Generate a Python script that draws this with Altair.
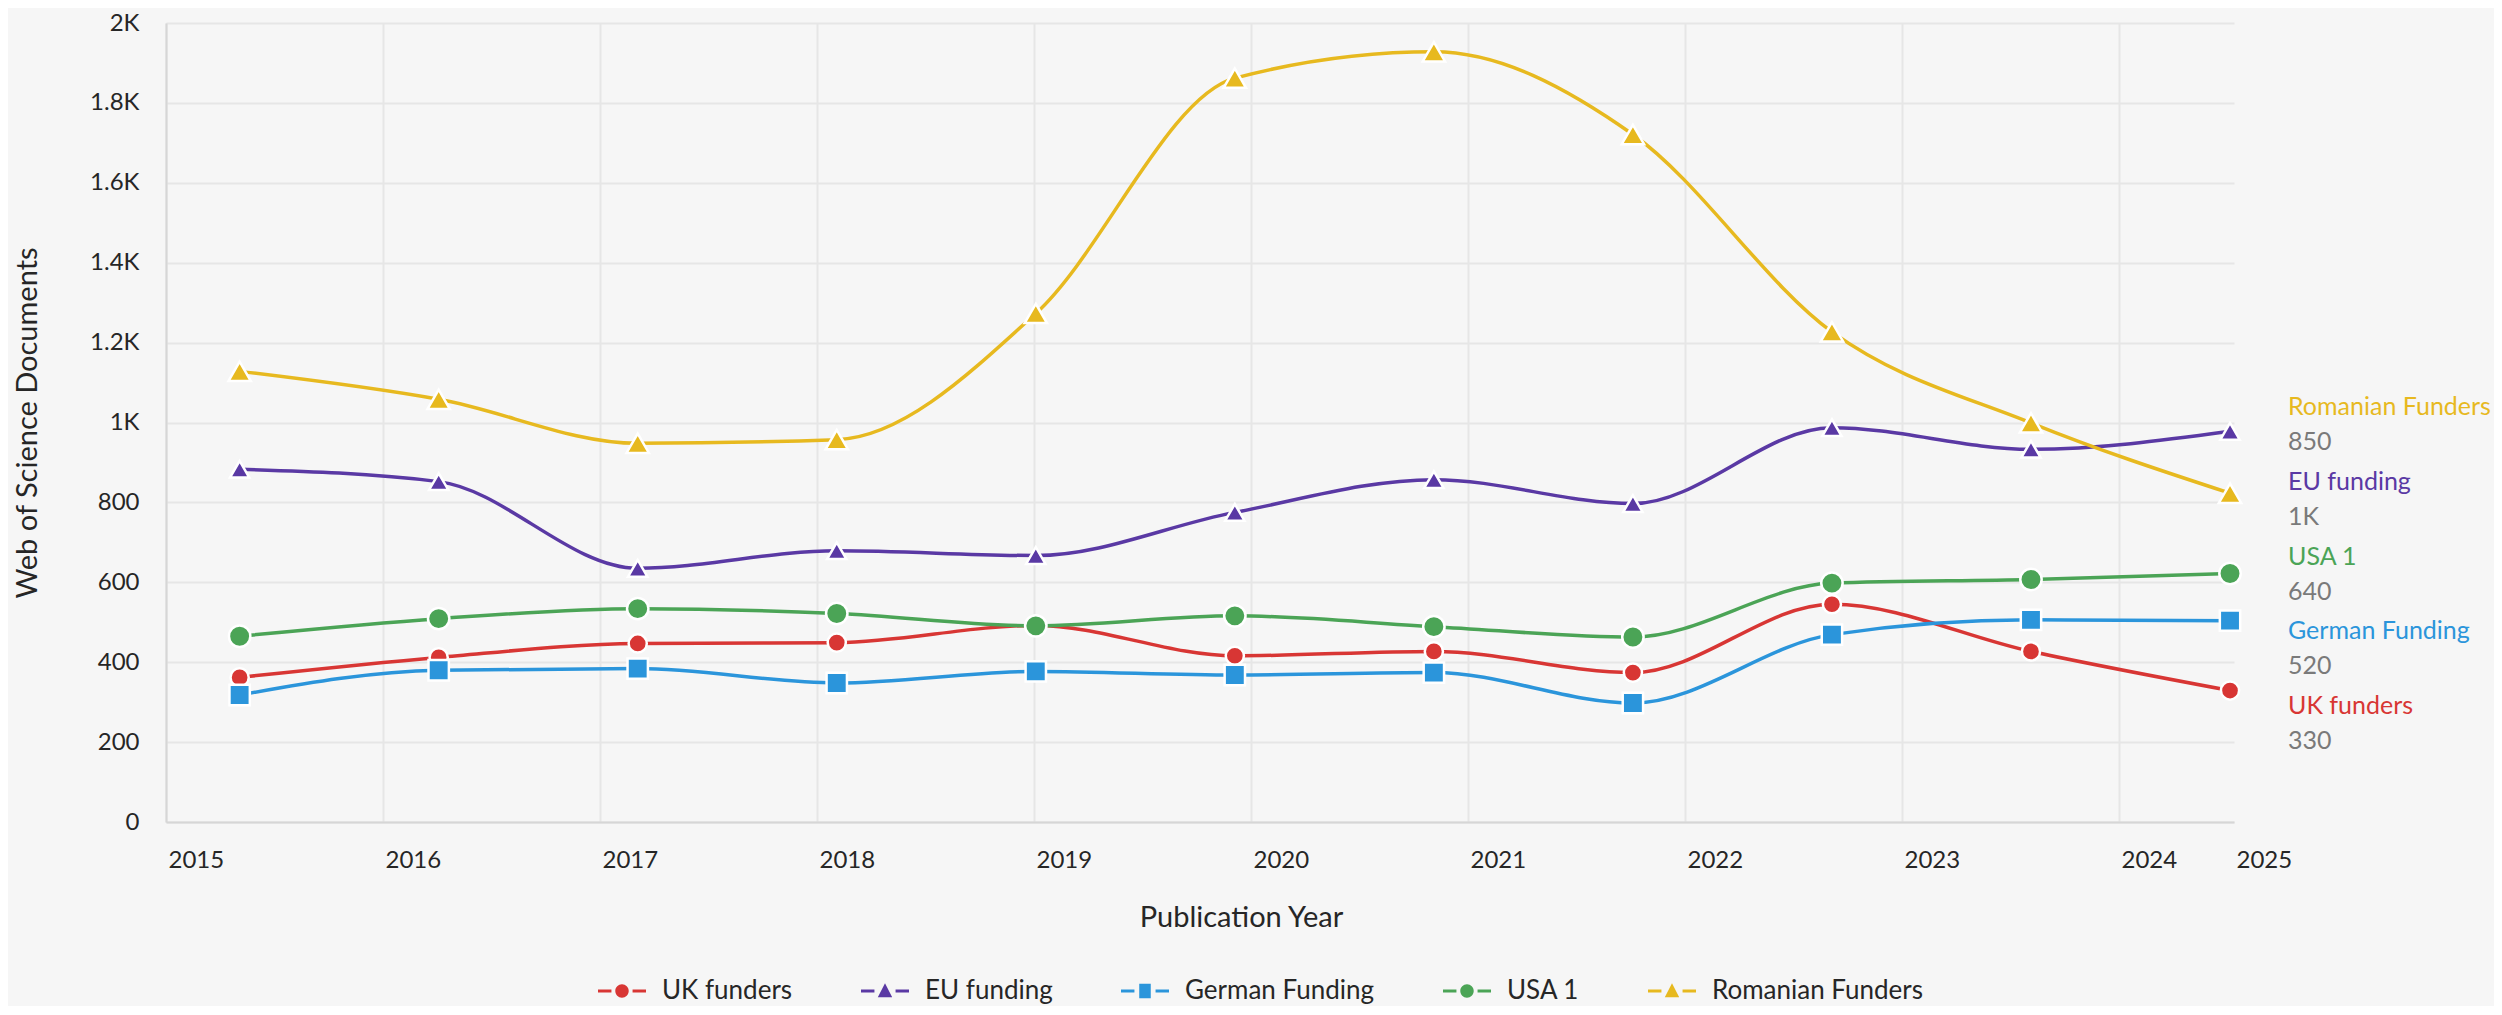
import altair as alt
import pandas as pd

# ---------------- data ----------------
years = [2015, 2016, 2017, 2018, 2019, 2020, 2021, 2022, 2023, 2024, 2025]
series = ["UK funders", "EU funding", "German Funding", "USA 1", "Romanian Funders"]

uk_funders = [362, 412, 447, 449, 492, 416, 427, 374, 545, 427, 329]
eu_funding = [883, 852, 635, 679, 667, 775, 857, 797, 987, 933, 978]
german_funding = [318, 380, 384, 348, 377, 368, 374, 298, 469, 506, 504]
usa_1 = [465, 509, 534, 522, 491, 516, 489, 463, 598, 607, 622]
romanian_funders = [1128, 1058, 948, 957, 1273, 1862, 1928, 1721, 1227, 999, 823]

end_labels = ["330", "1K", "520", "640", "850"]          # right-hand summary values
label_order = ["Romanian Funders", "EU funding", "USA 1", "German Funding", "UK funders"]

x_ticks = [2015, 2016, 2017, 2018, 2019, 2020, 2021, 2022, 2023, 2024]
y_ticks = [0, 200, 400, 600, 800, 1000, 1200, 1400, 1600, 1800, 2000]

# ---------------- styles ----------------
colors = ["#d83634", "#5a39a4", "#2b95db", "#4ba456", "#e7b91f"]
shapes = ["circle", "triangle-up", "square", "circle", "triangle-up"]
marker_sizes = [330, 500, 300, 330, 500]
DASHES = "M-1,-0.065H-0.44V0.065H-1Z M0.44,-0.065H1V0.065H0.44Z "
legend_paths = [
    DASHES + "M-0.28,0A0.28,0.28,0,1,0,0.28,0A0.28,0.28,0,1,0,-0.28,0Z",
    DASHES + "M0,-0.32L0.3,0.26L-0.3,0.26Z",
    DASHES + "M-0.24,-0.3H0.24V0.3H-0.24Z",
    DASHES + "M-0.28,0A0.28,0.28,0,1,0,0.28,0A0.28,0.28,0,1,0,-0.28,0Z",
    DASHES + "M0,-0.32L0.3,0.26L-0.3,0.26Z",
]

FONT = "Lato"
TEXT = "#262626"
W, H = 2068, 799

# ---------------- tables ----------------
rows = []
for name, vals in zip(series, [uk_funders, eu_funding, german_funding, usa_1, romanian_funders]):
    for yr, v in zip(years, vals):
        rows.append({"Year": yr, "Series": name, "Documents": v})
df = pd.DataFrame(rows)
labels_df = pd.DataFrame({"Series": series, "Latest": end_labels})

# ---------------- scales ----------------
color_scale = alt.Scale(domain=series, range=colors)
y_scale = alt.Scale(domain=[0, 2000], nice=False, zero=True)
data_x_scale = alt.Scale(domain=[2014.63, 2025.02], nice=False, zero=False)
axis_end = 2024.53
axis_x_scale = alt.Scale(domain=[2015, axis_end], nice=False, zero=False)

base = alt.Chart(df)

axis_layer = base.mark_point(opacity=0).encode(
    x=alt.X(
        "Year:Q",
        scale=axis_x_scale,
        axis=alt.Axis(
            values=x_ticks + [axis_end],
            tickCount=60,
            tickMinStep=0.001,
            labelExpr="datum.value > 2024.5 ? '2025' : format(datum.value, 'd')",
            labelAlign="left",
            labelFlush=False,
            labelOverlap=False,
            labelBound=False,
            labelFont=FONT,
            labelFontSize=24,
            labelColor=TEXT,
            labelPadding=26,
            labelOffset=2,
            ticks=False,
            tickSize=0,
            grid=True,
            gridOpacity={"condition": {"test": "datum.value > 2024.5", "value": 0}, "value": 1},
            title="Publication Year",
            titleFont=FONT,
            titleFontSize=29,
            titleFontWeight="normal",
            titleColor=TEXT,
            titleX=1075,
            titleY=95,
            titleBaseline="middle",
            titleAlign="center",
        ),
    ),
    y=alt.Y(
        "Documents:Q",
        scale=y_scale,
        axis=alt.Axis(
            values=y_ticks,
            tickCount=60,
            tickMinStep=0.001,
            labelExpr="replace(format(datum.value, '~s'), 'k', 'K')",
            labelFont=FONT,
            labelFontSize=24,
            labelColor=TEXT,
            labelPadding=27,
            labelFlush=False,
            labelOverlap=False,
            ticks=False,
            tickSize=0,
            grid=True,
            title="Web of Science Documents",
            titleFont=FONT,
            titleFontSize=29,
            titleFontWeight="normal",
            titleColor=TEXT,
            titleX=-139,
            titleY=H / 2,
            titleAngle=-90,
            titleBaseline="middle",
            titleAlign="center",
        ),
    ),
)

lines = base.mark_line(interpolate="monotone", strokeWidth=3.5).encode(
    x=alt.X("Year:Q", scale=data_x_scale, axis=None),
    y=alt.Y("Documents:Q", scale=y_scale, axis=None),
    color=alt.Color("Series:N", scale=color_scale, legend=None),
)

points = base.mark_point(filled=True, opacity=1, stroke="white", strokeWidth=2.5).encode(
    x=alt.X("Year:Q", scale=data_x_scale, axis=None),
    y=alt.Y("Documents:Q", scale=y_scale, axis=None),
    color=alt.Color("Series:N", scale=color_scale, legend=None),
    shape=alt.Shape("Series:N", scale=alt.Scale(domain=series, range=shapes), legend=None),
    size=alt.Size("Series:N", scale=alt.Scale(domain=series, range=marker_sizes), legend=None),
)

label_y = alt.Y(
    "Series:N",
    scale=alt.Scale(type="point", domain=label_order, range=[384, 683], padding=0),
    axis=None,
)

names = alt.Chart(labels_df).mark_text(
    align="left", baseline="middle", font=FONT, fontSize=25
).encode(
    x=alt.value(W + 54),
    y=label_y,
    text="Series:N",
    color=alt.Color("Series:N", scale=color_scale, legend=None),
)

latest = alt.Chart(labels_df).mark_text(
    align="left", baseline="middle", font=FONT, fontSize=25, dy=35, color="#7a7a7a"
).encode(
    x=alt.value(W + 54),
    y=label_y,
    text="Latest:N",
)

legend_props = dict(
    orient="none",
    legendX=432,
    legendY=944,
    direction="horizontal",
    title=None,
    labelFont=FONT,
    labelFontSize=26,
    labelColor=TEXT,
    labelLimit=500,
    labelOffset=16,
    columnPadding=68,
    symbolSize=2304,
    symbolStrokeWidth=0,
)

legend_layer = alt.Chart(labels_df).transform_filter("false").mark_point(
    filled=True, opacity=1, size=2304
).encode(
    color=alt.Color("Series:N", scale=color_scale, legend=alt.Legend(**legend_props)),
    shape=alt.Shape(
        "Series:N",
        scale=alt.Scale(domain=series, range=legend_paths),
        legend=alt.Legend(**legend_props),
    ),
)

chart = (
    alt.layer(axis_layer, lines, points, names, latest, legend_layer)
    .resolve_scale(x="independent", y="independent", color="independent",
                   shape="independent", size="independent")
    .properties(
        width=W,
        height=H,
        padding={"left": 158, "top": 15, "right": 260, "bottom": 184},
        autosize=alt.AutoSizeParams(type="none"),
        background="#f6f6f6",
    )
    .configure_view(stroke=None)
    .configure_axis(
        gridColor="#e6e6e6",
        gridWidth=2,
        domainColor="#d6d6d6",
        domainWidth=2,
    )
)

chart.save("out.html", embed_options={"renderer": "svg", "actions": False})
